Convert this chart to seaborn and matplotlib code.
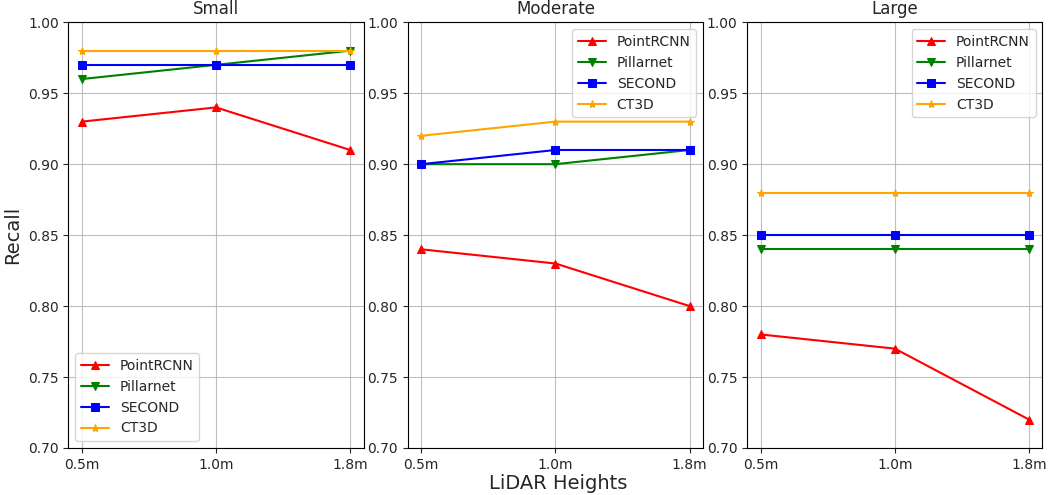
import matplotlib
matplotlib.use("Agg")
import matplotlib.pyplot as plt
import pandas as pd
import seaborn as sns

# recall per model at each lidar mounting height, one panel per object size
heights = ['0.5m', '1.0m', '1.8m']
models = ['PointRCNN', 'Pillarnet', 'SECOND', 'CT3D']
sizes = ['Small', 'Moderate', 'Large']

small_pointrcnn = [0.93, 0.94, 0.91]
small_pillarnet = [0.96, 0.97, 0.98]
small_second = [0.97, 0.97, 0.97]
small_ct3d = [0.98, 0.98, 0.98]

moderate_pointrcnn = [0.84, 0.83, 0.80]
moderate_pillarnet = [0.90, 0.90, 0.91]
moderate_second = [0.90, 0.91, 0.91]
moderate_ct3d = [0.92, 0.93, 0.93]

large_pointrcnn = [0.78, 0.77, 0.72]
large_pillarnet = [0.84, 0.84, 0.84]
large_second = [0.85, 0.85, 0.85]
large_ct3d = [0.88, 0.88, 0.88]

recall = {
    'Small': [small_pointrcnn, small_pillarnet, small_second, small_ct3d],
    'Moderate': [moderate_pointrcnn, moderate_pillarnet, moderate_second, moderate_ct3d],
    'Large': [large_pointrcnn, large_pillarnet, large_second, large_ct3d],
}

rows = []
for size in sizes:
    for model, vals in zip(models, recall[size]):
        for i, v in enumerate(vals):
            rows.append({'Size': size, 'Model': model, 'pos': i, 'Recall': v})
df = pd.DataFrame(rows)

colors = {'PointRCNN': 'red', 'Pillarnet': 'green', 'SECOND': 'blue', 'CT3D': 'orange'}
markers = {'PointRCNN': '^', 'Pillarnet': 'v', 'SECOND': 's', 'CT3D': '*'}
legend_loc = {'Small': 'lower left', 'Moderate': 'upper right', 'Large': 'upper right'}

sns.set_style('ticks')
plt.rcParams['font.family'] = ['DejaVu Sans']

fig, axes = plt.subplots(1, 3, figsize=(10.53, 4.95), dpi=100)
for ax, size in zip(axes, sizes):
    sub = df[df['Size'] == size]
    for model in models:
        d = sub[sub['Model'] == model]
        sns.lineplot(data=d, x='pos', y='Recall', ax=ax, color=colors[model], marker=markers[model],
                     markeredgecolor=colors[model], markersize=6, label=model, linewidth=1.5)
    ax.set_ylim(0.70, 1.00)
    ax.set_xticks(range(len(heights)))
    ax.set_xticklabels(heights)
    ax.set_title(size, fontsize=12)
    ax.set_xlabel('')
    ax.set_ylabel('')
    ax.grid(True, color='#b0b0b0', linewidth=0.8, alpha=0.8)
    ax.tick_params(labelsize=10)
    ax.legend(loc=legend_loc[size], fontsize=10)
    for s in ax.spines.values():
        s.set_color('black')
        s.set_linewidth(0.8)

axes[0].set_ylabel('Recall', fontsize=14)
fig.supxlabel('LiDAR Heights', fontsize=14, x=0.53, y=0.005)
plt.subplots_adjust(left=0.065, right=0.99, top=0.955, bottom=0.095, wspace=0.15)
plt.savefig('out.png')
